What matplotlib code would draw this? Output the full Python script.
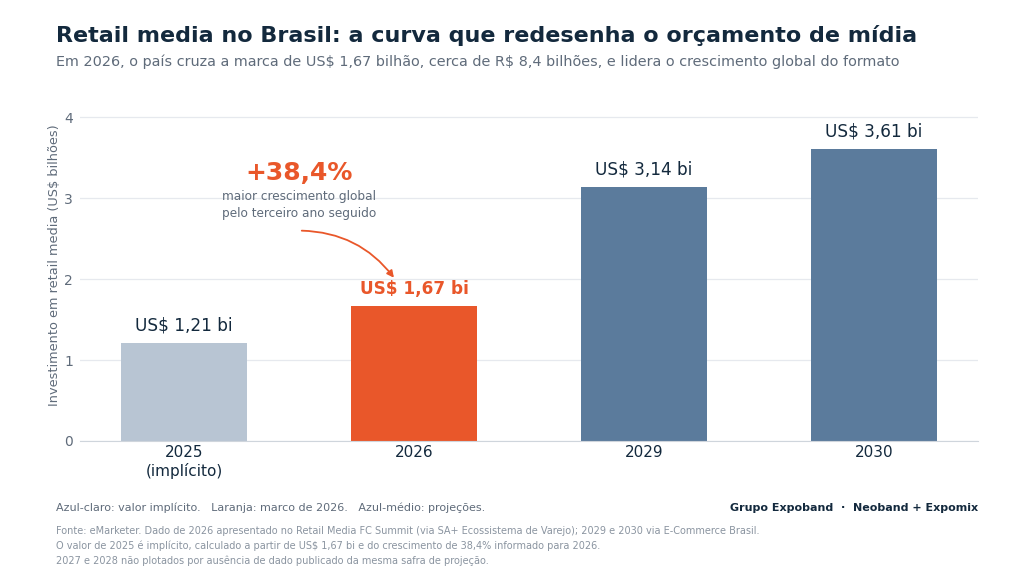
import matplotlib
matplotlib.use("Agg")
from matplotlib import pyplot as plt

anos = ["2025\n(implícito)", "2026", "2029", "2030"]
valores = [1.21, 1.67, 3.14, 3.61]
rotulos = ["US$ 1,21 bi", "US$ 1,67 bi", "US$ 3,14 bi", "US$ 3,61 bi"]
cores = ["#b8c5d3", "#e9572a", "#5b7b9c", "#5b7b9c"]

navy = "#13293d"
cinza = "#5f6b7a"
laranja = "#e9572a"

plt.rcParams["font.family"] = ["DejaVu Sans"]
plt.rcParams["text.parse_math"] = False
fig = plt.figure(figsize=(10.24, 5.76), dpi=100)
ax = fig.add_axes([80 / 1024, 1 - 441 / 576, 898 / 1024, 352 / 576])

x = list(range(len(valores)))
ax.bar(x, valores, width=0.55, color=cores, zorder=2)
for i, (v, r) in enumerate(zip(valores, rotulos)):
    if i == 1:
        ax.text(i, v + 0.1, r, ha="center", va="bottom", fontsize=12.2,
                fontweight="bold", color=laranja)
    else:
        ax.text(i, v + 0.1, r, ha="center", va="bottom", fontsize=12.2, color=navy)

ax.set_xlim(-0.452, 3.452)
ax.set_ylim(0, 4.35)
ax.set_yticks([0, 1, 2, 3, 4])
ax.set_xticks(x)
ax.set_xticklabels(anos, fontsize=11, color=navy)
ax.tick_params(axis="y", labelsize=10, colors=cinza, length=0, pad=5)
ax.tick_params(axis="x", length=0, pad=3)
ax.grid(axis="y", color="#e6e9ee", linewidth=0.9, zorder=0)
for s in ["top", "right", "left"]:
    ax.spines[s].set_visible(False)
ax.spines["bottom"].set_color("#cfd5dc")
ax.set_ylabel("Investimento em retail media (US$ bilhões)", fontsize=9.3, color=cinza, labelpad=2)

# anotação do crescimento
ax.text(0.5, 3.31, "+38,4%", ha="center", va="center", fontsize=18,
        fontweight="bold", color=laranja)
ax.text(0.5, 2.92, "maior crescimento global\npelo terceiro ano seguido", ha="center",
        va="center", fontsize=8.7, color=cinza, linespacing=1.4)
ax.annotate("", xy=(0.92, 1.99), xytext=(0.5, 2.6),
            arrowprops=dict(arrowstyle="-|>", color=laranja, lw=1.3,
                            connectionstyle="arc3,rad=-0.25", mutation_scale=10))

fig.text(56 / 1024, 1 - 35 / 576, "Retail media no Brasil: a curva que redesenha o orçamento de mídia",
         fontsize=16.0, fontweight="bold", color=navy, va="center")
fig.text(56 / 1024, 1 - 62 / 576,
         "Em 2026, o país cruza a marca de US$ 1,67 bilhão, cerca de R$ 8,4 bilhões, e lidera o crescimento global do formato",
         fontsize=10.35, color=cinza, va="center")

fig.text(56 / 1024, 1 - 508 / 576,
         "Azul-claro: valor implícito.   Laranja: marco de 2026.   Azul-médio: projeções.",
         fontsize=8.0, color=cinza, va="center")
fig.text(978 / 1024, 1 - 508 / 576, "Grupo Expoband  ·  Neoband + Expomix",
         fontsize=8.0, fontweight="bold", color=navy, va="center", ha="right")
fonte = [
    "Fonte: eMarketer. Dado de 2026 apresentado no Retail Media FC Summit (via SA+ Ecossistema de Varejo); 2029 e 2030 via E-Commerce Brasil.",
    "O valor de 2025 é implícito, calculado a partir de US$ 1,67 bi e do crescimento de 38,4% informado para 2026.",
    "2027 e 2028 não plotados por ausência de dado publicado da mesma safra de projeção.",
]
for k, linha in enumerate(fonte):
    fig.text(56 / 1024, 1 - (531 + 15 * k) / 576, linha, fontsize=7.05, color="#8a94a0", va="center")

fig.savefig("out.png", dpi=100)
